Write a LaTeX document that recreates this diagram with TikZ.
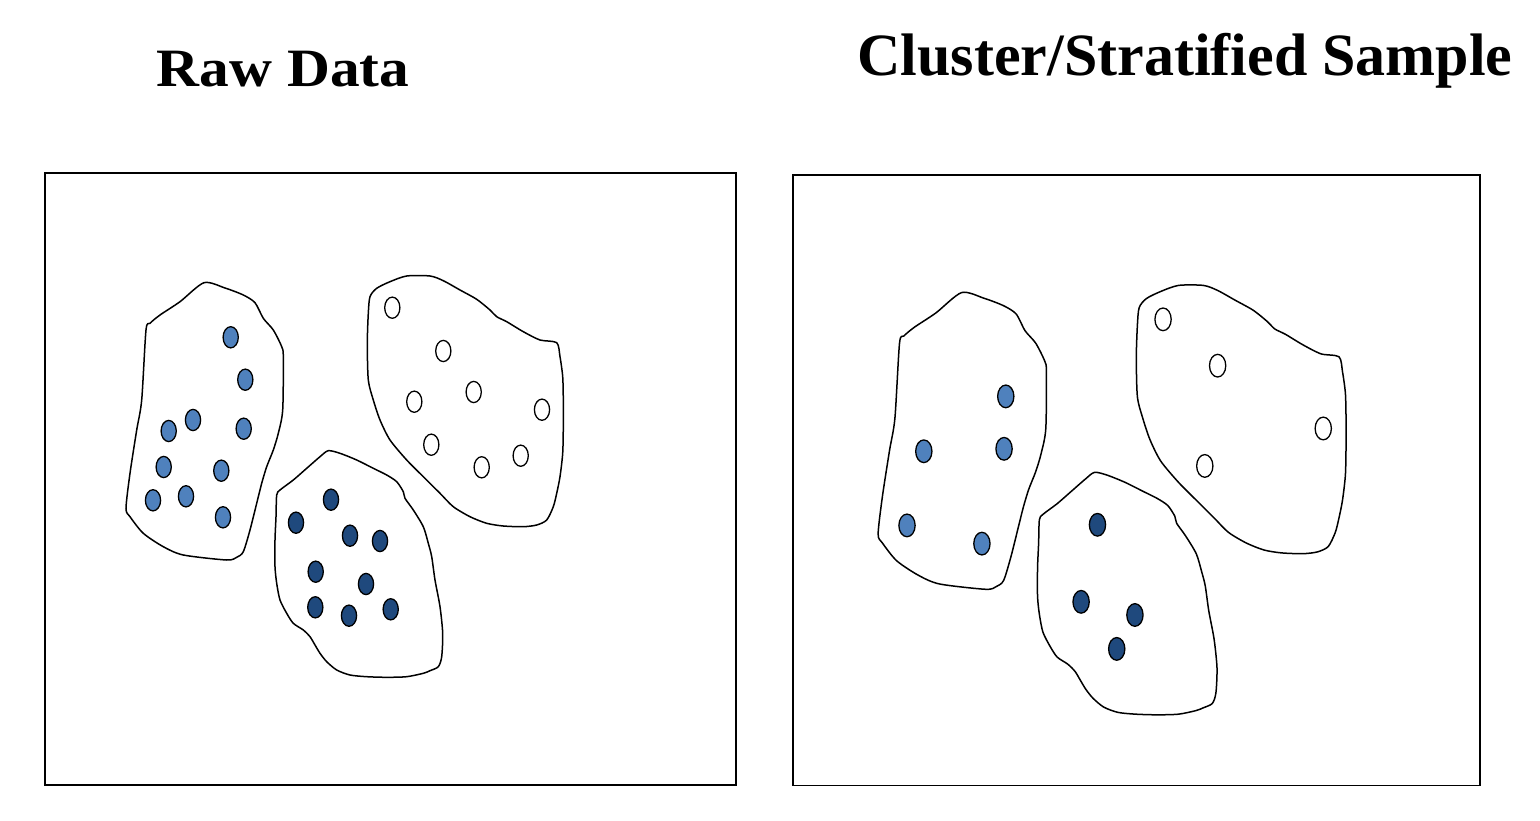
\documentclass[tikz,border=0pt]{standalone}
\usepackage{fontspec}
\usepackage{graphicx}
\setmainfont{Liberation Serif}
\definecolor{lightdot}{RGB}{79,129,189}
\definecolor{darkdot}{RGB}{31,73,125}
\tikzset{
  frame/.style={draw=black, line width=1.8pt},
  blob/.style={draw=black, line width=1.5pt, fill=white},
  dotL/.style={draw=black, line width=1.3pt, fill=lightdot},
  dotD/.style={draw=black, line width=1.3pt, fill=darkdot},
  dotO/.style={draw=black, line width=1.3pt, fill=white},
  title/.style={font=\bfseries\fontsize{60}{70}\selectfont, anchor=base, inner sep=0pt}
}
\newcommand\myblobs{%
  \draw[blob] plot[smooth cycle, tension=0.45] coordinates {
    (204,282.7) (225,288) (243.3,295) (255,302.7) (263.3,318.3) (273.3,330)
    (281.7,346.7) (283.3,356.7) (282.7,410) (278.3,433.3) (273.3,450)
    (266.7,466.7) (261.7,483.3) (256.7,503.3) (250,530) (243.3,551.7)
    (236.7,557.3) (226.7,560) (183.3,555) (163.3,546.7) (143.3,533.3)
    (130,516.7) (126,508.3) (130,473.3) (136.7,430) (141.7,400) (146,330)
    (150,323.3) (160,315) (180,301.7)};
  \draw[blob] plot[smooth cycle, tension=0.45] coordinates {
    (406.7,276) (430,276) (443.3,280.7) (460,290) (476.7,299.3) (490,310)
    (496.7,316.7) (506.7,321.7) (523.3,331.7) (540,340) (556.7,342.7)
    (560,356.7) (562.7,376.7) (563.3,400) (563.3,426.7) (562.7,453.3)
    (560,476.7) (556.7,493.3) (553.3,506.7) (546.7,520) (536.7,525)
    (523.3,526.7) (503.3,526) (486.7,523.3) (470,516.7) (453.3,506.7)
    (440,493.3) (423.3,476.7) (406.7,460) (390,440) (380,420) (373.3,400)
    (368.3,380) (367.3,343.3) (368.3,313.3) (370,296.7) (376.7,288.3)
    (390,281.7)};
  \draw[blob] plot[smooth cycle, tension=0.45] coordinates {
    (328.3,450.7) (340,453.3) (356.7,460) (373.3,468.3) (386.7,475)
    (396.7,481.7) (403.3,491.7) (405,498.3) (413.3,510) (423.3,526.7)
    (428.3,543.3) (431.7,556.7) (435,580) (440,606.7) (442.7,633.3)
    (441.7,656.7) (438.3,666.7) (430,670.7) (423.3,673.3) (406.7,676.7)
    (386.7,677.3) (366.7,676.7) (350,675) (336.7,670) (326.7,661.7)
    (320,653.3) (315,645) (310,636.7) (303.3,630) (293.3,623.3)
    (286.7,613.3) (280,600) (276.7,583.3) (275,566.7) (275,540)
    (276,516.7) (276.7,495) (280,490) (293.3,480) (306.7,468.3)
    (320,456.7)};
}
\newcommand\mydot[2]{\draw[#1] (#2) ellipse [x radius=7.6, y radius=10.6];}
\begin{document}
\begin{tikzpicture}[x=1pt,y=-1pt]
\useasboundingbox (0,0) rectangle (1540,821);
\node[title] (t1) at (283,86.7) {\scalebox{1.1}[1]{\fontsize{54}{64}\selectfont Raw Data}};
\node[title] (t2) at (1185,76) {Cluster/Stratified Sample};
\draw[frame] (45,173.3) rectangle (736,785.3);
\draw[frame] (793,175.3) rectangle (1480.3,785.5);
% left panel
\myblobs
\foreach \p in {{230.7,337.3},{245.3,379.7},{193,420},{168.7,431},{243.7,428.7},{163.7,467},{221.3,470.7},{153,500.3},{186,496.3},{223,517.3}}
  {\mydot{dotL}{\p}}
\foreach \p in {{331,499.7},{296,522.7},{350,535.7},{380,541},{315.7,571.7},{366,584},{315.3,607.3},{349,615.7},{390.7,609.3}}
  {\mydot{dotD}{\p}}
\foreach \p in {{392.3,307.7},{443.3,351},{414.3,401.7},{473.7,392},{542,409.7},{431.3,444.7},{481.7,467.3},{520.7,455.7}}
  {\mydot{dotO}{\p}}
% right panel
\begin{scope}[shift={(743.3,-9.9)}, scale=1.07]
\myblobs
\foreach \p in {{245.3,379.7},{243.7,428.7},{168.7,431},{153,500.3},{223,517.3}}
  {\mydot{dotL}{\p}}
\foreach \p in {{331,499.7},{315.7,571.7},{366,584},{349,615.7}}
  {\mydot{dotD}{\p}}
\foreach \p in {{392.3,307.7},{443.3,351},{542,409.7},{431.3,444.7}}
  {\mydot{dotO}{\p}}
\end{scope}
\end{tikzpicture}
\end{document}
